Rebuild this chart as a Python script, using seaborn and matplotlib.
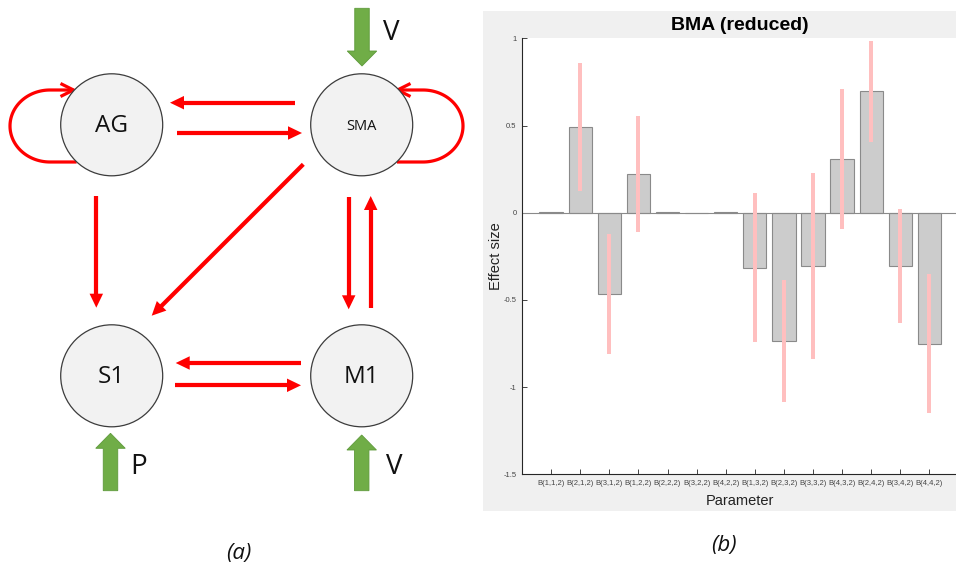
import numpy as np
import pandas as pd
import matplotlib
matplotlib.use("Agg")
import matplotlib.pyplot as plt
from matplotlib.patches import Circle, Rectangle, Polygon, FancyArrow
import seaborn as sns

# ---- bar chart data: BMA (reduced) B-matrix parameters ----
params = ['B(1,1,2)', 'B(2,1,2)', 'B(3,1,2)', 'B(1,2,2)', 'B(2,2,2)', 'B(3,2,2)', 'B(4,2,2)',
          'B(1,3,2)', 'B(2,3,2)', 'B(3,3,2)', 'B(4,3,2)', 'B(2,4,2)', 'B(3,4,2)', 'B(4,4,2)']
effect = [0.004, 0.490, -0.465, 0.222, 0.002, 0.0, 0.003,
          -0.316, -0.737, -0.305, 0.307, 0.697, -0.306, -0.751]
ci_half = [0.0, 0.367, 0.345, 0.335, 0.0, 0.0, 0.0,
           0.428, 0.350, 0.535, 0.400, 0.290, 0.327, 0.397]
yticks = [-1.5, -1, -0.5, 0, 0.5, 1]
ytick_labels = ['-1.5', '-1', '-0.5', '0', '0.5', '1']

# ---- network diagram content ----
nodes = {'AG': (111.7, 124.8), 'SMA': (361.7, 124.8), 'S1': (111.7, 375.8), 'M1': (361.7, 375.8)}
node_fontsize = {'AG': 17.5, 'SMA': 10.5, 'S1': 17.5, 'M1': 17.5}
inputs = [('V', (362, 8.3), (362, 66), (391.7, 33.3)),
          ('P', (110.5, 490.7), (110.5, 433.3), (138.3, 466.7)),
          ('V', (361.7, 490.7), (361.7, 435), (394.3, 466.7))]

W, H, DPI = 956, 572, 100
sns.set_theme(style="white")
plt.rcParams['font.family'] = ['Liberation Sans', 'DejaVu Sans']

fig = plt.figure(figsize=(W / DPI, H / DPI), dpi=DPI)
fig.patch.set_facecolor('white')

# Canvas in pixel units for the connectivity diagram
ax0 = fig.add_axes([0, 0, 1, 1], zorder=0)
ax0.set_xlim(0, W)
ax0.set_ylim(H, 0)
ax0.axis('off')

PT = 72.0 / DPI  # pixels -> points
RED = '#ff0000'
GREEN = '#70ad47'


def red_arrow(p0, p1, lw=4.2, hl=14, hw=13.5):
    p0 = np.asarray(p0, float)
    p1 = np.asarray(p1, float)
    u = (p1 - p0) / np.linalg.norm(p1 - p0)
    n = np.array([-u[1], u[0]])
    base = p1 - u * hl
    ax0.plot([p0[0], base[0] + u[0]], [p0[1], base[1] + u[1]], color=RED,
             lw=lw * PT, solid_capstyle='butt')
    ax0.add_patch(Polygon([p1, base + n * hw / 2, base - n * hw / 2],
                          closed=True, fc=RED, ec='none'))


def self_loop(start, tip, x_far, lw=3.2, hl=13, hw=13):
    # straight run from the node, half-ellipse around, straight back to the node
    (xs, ys), (xt, yt) = start, tip
    side = np.sign(x_far - xs)
    rx = 40.0
    cx = x_far - side * rx
    cy = (ys + yt) / 2
    ry = (ys - yt) / 2
    t = np.linspace(np.pi / 2, -np.pi / 2, 80)   # bottom -> far side -> top
    ex = cx + side * rx * np.cos(t)
    ey = cy + ry * np.sin(t)
    px = np.concatenate([[xs], ex, [xt]])
    py = np.concatenate([[ys], ey, [yt]])
    ax0.plot(px, py, color=RED, lw=lw * PT, solid_capstyle='butt',
             solid_joinstyle='round')
    back = xt + side * hl
    ax0.plot([back, xt, back], [yt - hw / 2, yt, yt + hw / 2], color=RED,
             lw=lw * PT, solid_capstyle='butt', solid_joinstyle='miter')


# connections between regions
red_arrow((295, 102.7), (170, 102.7))      # SMA -> AG
red_arrow((176.7, 133), (302, 133))        # AG -> SMA
red_arrow((96.3, 196), (96.3, 307.7))      # AG -> S1
red_arrow((303.3, 164.3), (151.7, 315.7))  # SMA -> S1
red_arrow((348.7, 196.7), (348.7, 309.3))  # SMA -> M1
red_arrow((370.7, 307.7), (370.7, 196))    # M1 -> SMA
red_arrow((301, 363), (175.7, 363))        # M1 -> S1
red_arrow((175, 385.3), (301, 385.3))      # S1 -> M1

# self connections
self_loop((76.6, 162.0), (73.5, 90.0), 10.0)
self_loop((397.0, 162.0), (397.5, 90.0), 463.0)

# regions
for name, (cx, cy) in nodes.items():
    ax0.add_patch(Circle((cx, cy), 51, fc='#f2f2f2', ec='#3c3c3c', lw=0.9, zorder=3))
    ax0.text(cx, cy + 1.5, name, ha='center', va='center', fontsize=node_fontsize[name],
             family=['Open Sans', 'DejaVu Sans'], color='#111111', zorder=4)

# driving inputs
for label, (x0, y0), (x1, y1), (tx, ty) in inputs:
    ax0.add_patch(FancyArrow(x0, y0, x1 - x0, y1 - y0, width=14.5, head_width=29.5,
                             head_length=15, length_includes_head=True,
                             fc=GREEN, ec='#5e9a3b', lw=0.6, zorder=3))
    ax0.text(tx, ty, label, ha='center', va='center', fontsize=20,
             family=['Open Sans', 'DejaVu Sans'], color='#111111')

ax0.text(239, 554, '(a)', ha='center', va='center', fontsize=16, style='italic',
         family=['Open Sans', 'DejaVu Sans'], color='#111111')
ax0.text(724, 545, '(b)', ha='center', va='center', fontsize=16, style='italic',
         family=['Open Sans', 'DejaVu Sans'], color='#111111')

# grey figure panel behind the bar chart
ax0.add_patch(Rectangle((483, 11), W - 483 + 5, 500, fc='#f0f0f0', ec='none', zorder=0))

# ---- bar chart ----
left, right, top, bottom = 522, 958.5, 38.3, 474.3
ax = fig.add_axes([left / W, 1 - bottom / H, (right - left) / W, (bottom - top) / H], zorder=1)
ax.set_facecolor('white')

df = pd.DataFrame({'Parameter': params, 'Effect size': effect, 'ci': ci_half})
sns.barplot(data=df, x='Parameter', y='Effect size', ax=ax, color='#cccccc',
            saturation=1, edgecolor='#8a8a8a', linewidth=0.8, width=0.8,
            errorbar=None, zorder=2)
ax.axhline(0, color='#8a8a8a', lw=0.8, zorder=2.5)
ax.errorbar(np.arange(len(params)), df['Effect size'], yerr=df['ci'], fmt='none',
            ecolor='#ffbfbf', elinewidth=4 * PT, capsize=0, zorder=3)

ax.set_xlim(-1, len(params))
ax.set_ylim(-1.5, 1)
ax.set_yticks(yticks)
ax.set_yticklabels(ytick_labels)
for s in ['top', 'right']:
    ax.spines[s].set_visible(False)
for s in ['left', 'bottom']:
    ax.spines[s].set_color('#262626')
    ax.spines[s].set_linewidth(0.8)
ax.tick_params(axis='both', direction='in', length=3.5, width=0.6, color='#262626',
               labelsize=5.5, labelcolor='#444444', pad=4,
               left=True, bottom=True)
ax.set_title('BMA (reduced)', fontsize=14, fontweight='bold', pad=6, color='black')
ax.set_xlabel('Parameter', fontsize=10.5, labelpad=5, color='#222222')
ax.set_ylabel('Effect size', fontsize=10.5, labelpad=0, color='#222222')

fig.savefig('out.png', dpi=DPI)
